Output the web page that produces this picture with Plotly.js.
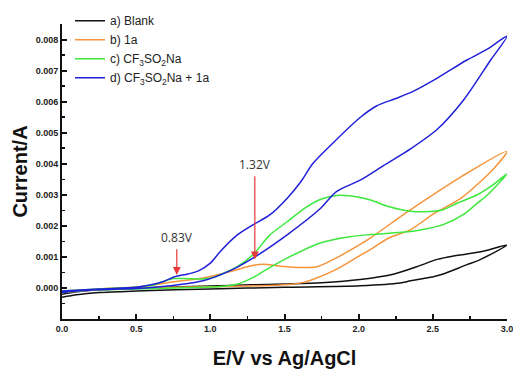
<!DOCTYPE html>
<html>
<head>
<meta charset="utf-8">
<script src="https://cdn.plot.ly/plotly-3.0.1.min.js"></script>
<style>html,body{margin:0;padding:0;background:#fff}#chart{width:513px;height:369px}</style>
</head>
<body>
<div id="chart"></div>
<script>
// a) Blank
const blankX = [0, 0.1, 0.25, 0.5, 0.75, 1.0, 1.27, 1.5, 1.75, 2.01, 2.24, 2.39, 2.53, 2.64, 2.71, 2.84, 3.0,
                2.8, 2.73, 2.57, 2.51, 2.35, 2.28, 2.01, 1.5, 1.0, 0.5, 0.25, 0.1, 0];
const blankY = [-0.0002, -0.00012, -0.00006, -0.00001, 0.00003, 0.00006, 0.0001, 0.00013, 0.00017, 0.00027, 0.00045, 0.00068, 0.00092, 0.00103, 0.00108, 0.00118, 0.00138,
                0.00087, 0.00075, 0.00045, 0.00037, 0.00023, 0.00016, 0.00007, 0.00002, -0.00003, -0.0001, -0.00015, -0.00022, -0.0003];
// b) 1a
const oneaX = [0, 0.25, 0.5, 1.0, 1.4, 1.55, 1.63, 1.72, 1.85, 2.01, 2.08, 2.2, 2.35, 2.51, 2.69, 2.91, 3.0,
               2.69, 2.35, 2.08, 2.01, 1.85, 1.72, 1.63, 1.47, 1.36, 1.29, 1.13, 0.95, 0.73, 0.6, 0.5, 0.25, 0];
const oneaY = [-0.00015, -0.00005, 0.0, 0.00004, 0.00008, 0.00012, 0.00018, 0.00033, 0.0006, 0.00105, 0.00124, 0.0016, 0.00188, 0.0024, 0.00289, 0.00384, 0.0044,
               0.00358, 0.00252, 0.00161, 0.0014, 0.00097, 0.00068, 0.00066, 0.0007, 0.00076, 0.00073, 0.00052, 0.00032, 0.00018, 0.00008, 0.00003, -0.00003, -0.00012];
// c) CF3SO2Na
const tfsX = [0, 0.25, 0.5, 0.6, 0.68, 0.75, 0.85, 0.95, 1.03, 1.1, 1.18, 1.29, 1.4, 1.52, 1.63, 1.74, 1.85, 1.95, 2.08, 2.2, 2.35, 2.48, 2.57, 2.66, 2.8, 2.9, 3.0,
              2.87, 2.8, 2.71, 2.57, 2.45, 2.35, 2.08, 1.94, 1.74, 1.52, 1.38, 1.29, 1.18, 1.07, 0.75, 0.5, 0.25, 0.1, 0];
const tfsY = [-0.0001, -0.00003, 0.00002, 0.00008, 0.0002, 0.0003, 0.0003, 0.00029, 0.00035, 0.0005, 0.00068, 0.00108, 0.0017, 0.00214, 0.00255, 0.00285, 0.00298, 0.00296, 0.00283, 0.00262, 0.00247, 0.00246, 0.00252, 0.00272, 0.003, 0.0033, 0.00368,
              0.003, 0.00273, 0.00238, 0.00204, 0.0019, 0.00182, 0.00172, 0.00165, 0.00145, 0.00097, 0.0006, 0.00034, 0.00012, 0.00005, 0.0, -0.00003, -0.00006, -0.0001, -0.00015];
// d) CF3SO2Na + 1a
const mixX = [0, 0.25, 0.5, 0.6, 0.68, 0.76, 0.85, 0.92, 1.0, 1.07, 1.18, 1.29, 1.4, 1.52, 1.61, 1.69, 1.81, 2.01, 2.12, 2.25, 2.37, 2.53, 2.73, 2.87, 3.0,
              2.89, 2.71, 2.53, 2.35, 2.17, 2.01, 1.85, 1.74, 1.52, 1.29, 1.13, 0.95, 0.73, 0.5, 0.25, 0.1, 0];
const mixY = [-0.0001, -0.00003, 0.00002, 0.0001, 0.0002, 0.00036, 0.00045, 0.00055, 0.0008, 0.00119, 0.0017, 0.00204, 0.00235, 0.0029, 0.00342, 0.004, 0.00459, 0.00549, 0.00586, 0.0061, 0.00634, 0.00676, 0.00734, 0.0077, 0.00811,
              0.00734, 0.00607, 0.00511, 0.00448, 0.00395, 0.00347, 0.0031, 0.00255, 0.00172, 0.00097, 0.00055, 0.00023, 0.00007, -0.00002, -0.00006, -0.0001, -0.00015];

const seriesNames = ['a) Blank', 'b) 1a', 'c) CF<sub>3</sub>SO<sub>2</sub>Na', 'd) CF<sub>3</sub>SO<sub>2</sub>Na + 1a'];
const seriesColors = ['#111111', '#f7943a', '#3ee83e', '#2020d8'];
const xs = [blankX, oneaX, tfsX, mixX];
const ys = [blankY, oneaY, tfsY, mixY];

// tick labels
const xTicks = [0, 0.5, 1.0, 1.5, 2.0, 2.5, 3.0];
const xTickText = ['0.0', '0.5', '1.0', '1.5', '2.0', '2.5', '3.0'];
const yTicks = [0, 0.001, 0.002, 0.003, 0.004, 0.005, 0.006, 0.007, 0.008];
const yTickText = ['0.000', '0.001', '0.002', '0.003', '0.004', '0.005', '0.006', '0.007', '0.008'];

// peak markers
const peakLabels = ['0.83V', '1.32V'];
const peakTipX = [0.774, 1.30];
const peakTipY = [0.00042, 0.00092];
const peakTextY = [0.00163, 0.00398];

const traces = xs.map((x, i) => ({
  x: x, y: ys[i], type: 'scatter', mode: 'lines', name: seriesNames[i],
  line: {color: seriesColors[i], width: 1.5, shape: 'spline', smoothing: 0.8}
}));

const annotations = peakLabels.map((t, i) => ({
  x: peakTipX[i], y: peakTipY[i], xref: 'x', yref: 'y', axref: 'x', ayref: 'y',
  ax: peakTipX[i], ay: peakTextY[i], text: t, showarrow: true, arrowhead: 2, arrowsize: 1.3,
  arrowwidth: 1.2, arrowcolor: '#e8383a', standoff: 0, startstandoff: 2,
  font: {family: 'Open Sans, sans-serif', size: 12, color: '#333'}
}));

const axisFont = {family: 'Liberation Sans, Arial, sans-serif', size: 9, color: '#222', weight: 700};
const layout = {
  width: 513, height: 369,
  margin: {l: 62, r: 6, t: 21, b: 50},
  paper_bgcolor: '#fff', plot_bgcolor: '#fff',
  showlegend: true,
  legend: {x: 0.018, y: 1.06, xanchor: 'left', yanchor: 'top', bgcolor: 'rgba(0,0,0,0)',
    font: {family: 'Liberation Sans, Arial, sans-serif', size: 12, color: '#222'}, itemwidth: 30, tracegroupgap: 0},
  xaxis: {range: [0, 3], tickmode: 'array', tickvals: xTicks, ticktext: xTickText, showgrid: false, zeroline: false,
    showline: true, linecolor: '#111', linewidth: 2, ticks: 'inside', ticklen: 5, tickwidth: 2, tickcolor: '#111',
    ticklabeloverflow: 'allow',
    minor: {dtick: 0.25, tick0: 0, ticks: 'inside', ticklen: 3, tickwidth: 1.5, tickcolor: '#111'},
    tickfont: axisFont,
    title: {text: 'E/V vs Ag/AgCl', font: {family: 'Liberation Sans, Arial, sans-serif', size: 20, color: '#111', weight: 700}, standoff: 22}},
  yaxis: {range: [-0.001, 0.0085], tickmode: 'array', tickvals: yTicks, ticktext: yTickText, showgrid: false, zeroline: false,
    showline: true, linecolor: '#111', linewidth: 2, ticks: 'inside', ticklen: 5, tickwidth: 2, tickcolor: '#111',
    ticklabeloverflow: 'allow',
    minor: {dtick: 0.0005, tick0: 0, ticks: 'inside', ticklen: 3, tickwidth: 1.5, tickcolor: '#111'},
    tickfont: axisFont,
    title: {text: 'Current/A', font: {family: 'Liberation Sans, Arial, sans-serif', size: 20, color: '#111', weight: 700}, standoff: 3}},
  annotations: annotations
};

Plotly.newPlot('chart', traces, layout, {displayModeBar: false, staticPlot: true});
</script>
</body>
</html>
